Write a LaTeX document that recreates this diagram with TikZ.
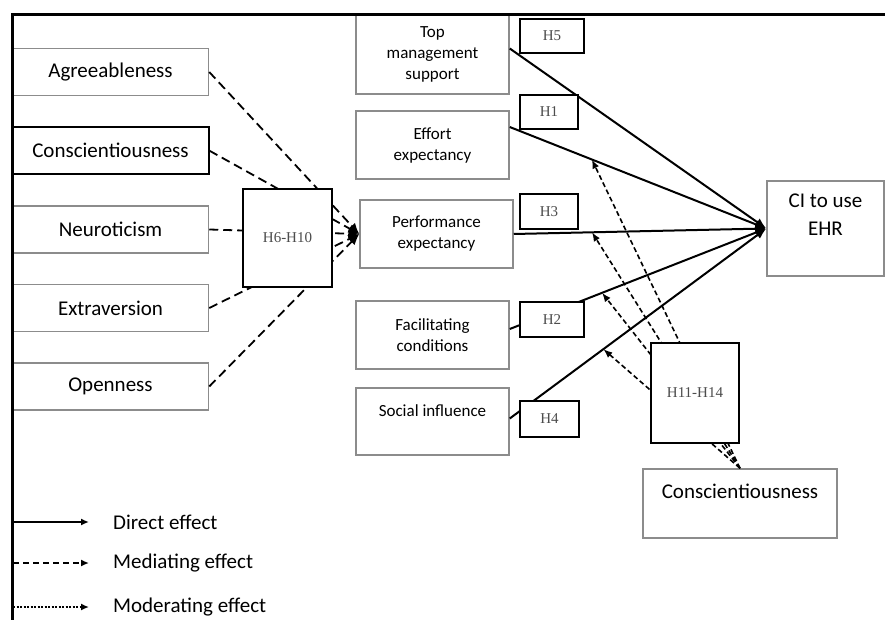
\documentclass[tikz,border=0pt]{standalone}
\usepackage{fontspec}
\setmainfont{Carlito}
\newfontfamily\hypfont{Liberation Serif}
\usepackage{xcolor}
\usetikzlibrary{positioning, arrows.meta, calc}
\definecolor{boxgray}{gray}{0.55}

\begin{document}
\begin{tikzpicture}[x=1pt, y=-1pt, node distance=30pt, >={Latex[length=11pt, width=9pt]},
    rect/.style={draw=boxgray, line width=1.5pt, fill=white, align=center, inner sep=2pt},
    trait/.style={rect, minimum width=196pt, minimum height=47pt, font=\fontsize{21}{25}\selectfont},
    cons/.style={rect, minimum width=153pt, minimum height=68pt, font=\fontsize{17}{21}\selectfont},
    hyp/.style={draw, line width=2pt, fill=white, text=black!70, font=\hypfont\fontsize{15}{18}\selectfont},
    direct/.style={line width=2pt},
    mediate/.style={line width=1.8pt, dash pattern=on 9pt off 5pt},
    moderate/.style={line width=1.6pt, dash pattern=on 5pt off 3pt, -{Latex[length=9pt, width=7pt]}},
    legendtext/.style={anchor=west, inner sep=0pt, font=\fontsize{21}{25}\selectfont}]

    \useasboundingbox (0,0) rectangle (885,620);

    % Draw rectangles
    \node (agree) [trait] at (110.5,72) {Agreeableness};
    \node (consc) [trait, draw=black, line width=2pt, below=of agree] {Conscientiousness};
    \node (neuro) [trait, below=of consc] {Neuroticism};
    \node (extra) [trait, below=of neuro] {Extraversion};
    \node (open) [trait, below=of extra] {Openness};

    \node (top) [cons, minimum height=79pt] at (432.5,54.5) {Top\\management\\support};
    \node (effort) [cons] at (432.5,145) {Effort\\expectancy};
    \node (perf) [cons] at (436.5,234) {Performance\\expectancy};
    \node (facil) [cons] at (432.5,335) {Facilitating\\conditions};
    \node (social) [cons, minimum height=67pt] at (432.5,421.5) {Social influence\\~};

    \node (ci) [rect, minimum width=117pt, minimum height=95pt, font=\fontsize{21}{28}\selectfont] at (825.5,228.5) {CI to use\\EHR\\~};
    \node (modr) [rect, minimum width=194pt, minimum height=69pt, font=\fontsize{21}{25}\selectfont] at (740,503.5) {Conscientiousness\\~};

    % Draw arrows
    \coordinate (topout) at ([yshift=6pt]top.east);
    \coordinate (effortout) at ([yshift=18pt]effort.east);
    \coordinate (facilout) at ([yshift=6pt]facil.east);
    \coordinate (socialout) at ([yshift=3pt]social.east);

    \draw[direct, ->] (topout) -- (ci.west);
    \draw[direct, ->] (effortout) -- (ci.west);
    \draw[direct, ->] (perf.east) -- (ci.west);
    \draw[direct, ->] (facilout) -- (ci.west);
    \draw[direct, ->] (socialout) -- (ci.west);

    \draw[mediate, ->] (agree.east) -- (perf.west);
    \draw[mediate, ->] (consc.east) -- (perf.west);
    \draw[mediate, ->] (neuro.east) -- (perf.west);
    \draw[mediate, ->] (extra.east) -- (perf.west);
    \draw[mediate, ->] (open.east) -- (perf.west);

    \coordinate (m1) at ($(effortout)!0.32!(ci.west)$);
    \coordinate (m2) at ($(perf.east)!0.31!(ci.west)$);
    \coordinate (m3) at ($(facilout)!0.36!(ci.west)$);
    \coordinate (m4) at ($(socialout)!0.365!(ci.west)$);

    \draw[moderate] (modr.north) -- (m1);
    \draw[moderate] (modr.north) -- (m2);
    \draw[moderate] (modr.north) -- (m3);
    \draw[moderate] (modr.north) -- (m4);

    % Hypothesis boxes on top of the paths
    \node (h610) [hyp, minimum width=89pt, minimum height=98pt] at (287.5,238) {H6-H10};
    \node (h1114) [hyp, minimum width=88pt, minimum height=100pt] at (695,393) {H11-H14};
    \node (h5) [hyp, minimum width=64pt, minimum height=34pt] at (552,36) {H5};
    \node (h1) [hyp, minimum width=58pt, minimum height=34pt] at (549,112) {H1};
    \node (h3) [hyp, minimum width=58pt, minimum height=35pt] at (549,211.5) {H3};
    \node (h2) [hyp, minimum width=64pt, minimum height=35pt] at (552,319.5) {H2};
    \node (h4) [hyp, minimum width=59pt, minimum height=36pt] at (549.5,419) {H4};

    % Legend
    \node (dir) [legendtext] at (113,522) {Direct effect};
    \node (med) [legendtext] at (113,563) {Mediating effect};
    \node (mod) [legendtext] at (113,607) {Moderating effect};
    \coordinate (l1) at (13,522);
    \coordinate (l2) at (13,563);
    \coordinate (l3) at (13,607);
    \draw[direct, -{Latex[length=8pt, width=7pt]}, shorten >=24pt] (l1) -- (dir.west);
    \draw[line width=1.8pt, dash pattern=on 6pt off 4pt, -{Latex[length=8pt, width=7pt]}, shorten >=24pt] (l2) -- (med.west);
    \draw[line width=1.8pt, dash pattern=on 2pt off 1.5pt, -{Latex[length=8pt, width=7pt]}, shorten >=24pt] (l3) -- (mod.west);

    % Frame
    \draw[line width=3.5pt] (12.5,620) -- (12.5,14.5) -- (885,14.5);

\end{tikzpicture}
\end{document}
